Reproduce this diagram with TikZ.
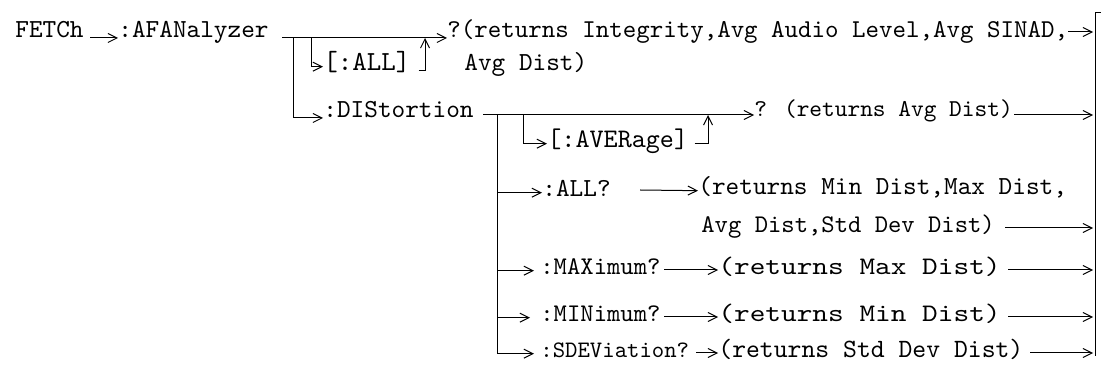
\documentclass[tikz,border=0pt]{standalone}
\usepackage{fontspec}
\usetikzlibrary{arrows.meta}

\newfontfamily\cmdfont{lmmono10-regular.otf}
\newfontfamily\widefont{lmmono10-regular.otf}[FakeStretch=1.185]

\begin{document}
\begin{tikzpicture}[
  x=0.5pt, y=-0.5pt,
  cmd/.style={
    anchor=base west,
    inner sep=0pt,
    font=\cmdfont\fontsize{#1pt}{15pt}\selectfont
  },
  cmd/.default=13,
  wide/.style={font=\widefont\fontsize{12.6pt}{15pt}\selectfont},
  line/.style={line width=0.5pt},
  arrow/.style={line, -{Straight Barb[length=4.5pt,width=4.5pt]}}
]
\useasboundingbox (0,0) rectangle (1101,367);

% command tree
\node[cmd] (fetch) at (15,38) {FETCh};
\node[cmd] (afan) at (118,38) {:AFANalyzer};
\node[cmd=13.8] (all) at (323,71) {[:ALL]};
\node[cmd] (dist) at (323,118) {:DIStortion};
\node[cmd=13.4] (aver) at (547,148) {[:AVERage]};
\node[cmd] (alld) at (542,197) {:ALL?};
\node[cmd=12.7] (max) at (540,275) {:MAXimum?};
\node[cmd=12.7] (min) at (540,322) {:MINimum?};
\node[cmd=11.8] (sdev) at (540,358) {:SDEViation?};

% returned values
\node[cmd=12.85] (q1) at (447,38) {?(returns Integrity,Avg Audio Level,Avg SINAD,};
\node[cmd] (q1b) at (464,71) {Avg Dist)};
\node[cmd=12.1] (q2) at (754,117) {? (returns Avg Dist)};
\node[cmd] (r3) at (698,195) {(returns Min Dist,Max Dist,};
\node[cmd=12.7] (r3b) at (701,233) {Avg Dist,Std Dev Dist)};
\node[cmd, wide] (r4) at (718,275) {(returns Max Dist)};
\node[cmd, wide] (r5) at (718,322) {(returns Min Dist)};
\node[cmd=13.2] (r6) at (718,358) {(returns Std Dev Dist)};

% junctions
\coordinate (a0) at (282,38);
\coordinate (j1) at (293,38);
\coordinate (j2) at (311,38);
\coordinate (j3) at (425,38);
\coordinate (d0) at (483,115);
\coordinate (d1) at (497,115);
\coordinate (d2) at (523,115);
\coordinate (d3) at (708,115);
\coordinate (s3) at (640,190);
\coordinate (s4) at (664,270);
\coordinate (s5) at (664,317);
\coordinate (s6) at (696,353);
\coordinate (barT) at (1095,13);
\coordinate (barB) at (1095,356);

% first level
\draw[arrow, shorten <=3pt] (fetch.base east) -- (afan.base west);
\draw[arrow] (a0) -- (q1.base west);
\draw[arrow] (j1) |- (dist.base west);
\draw[arrow] (j2) |- (all.mid west);
\draw[arrow] ([xshift=4pt]all.base east) -| (j3);

% distortion branch
\draw[arrow] (d0) -- (d0 -| q2.west);
\draw[arrow] (d2) |- (aver.mid west);
\draw[arrow] ([xshift=3pt]aver.mid east) -| (d3);
\draw[line] (d1) -- (d1 |- max.mid west);
\draw[arrow] (d1 |- alld.mid west) -- (alld.mid west);
\draw[arrow] (d1 |- max.mid west) -- ([xshift=-3pt]max.mid west);
\draw[arrow] (d1) |- ([xshift=-5pt]min.mid west);
\draw[arrow] (d1) |- ([xshift=-3pt]sdev.mid west);
\draw[arrow] (s3) -- (r3.mid west);
\draw[arrow] (s4) -- (s4 -| r4.west);
\draw[arrow] (s5) -- (s5 -| r5.west);
\draw[arrow] (s6) -- (s6 -| r6.west);

% right rail
\draw[line] (1101,13) -- (barT) -- (barB);
\coordinate (o1) at (1068,32);
\coordinate (o2) at (1014,115);
\coordinate (o3) at (1005,228);
\coordinate (o4) at (1008,270);
\coordinate (o5) at (1008,317);
\coordinate (o6) at (1030,353);
\draw[arrow, shorten >=1pt] (o1) -- (o1 -| barT);
\draw[arrow, shorten >=1pt] (o2) -- (o2 -| barT);
\draw[arrow, shorten >=1pt] (o3) -- (o3 -| barT);
\draw[arrow, shorten >=1pt] (o4) -- (o4 -| barT);
\draw[arrow, shorten >=1pt] (o5) -- (o5 -| barT);
\draw[arrow, shorten >=1pt] (o6) -- (o6 -| barT);
\end{tikzpicture}
\end{document}
